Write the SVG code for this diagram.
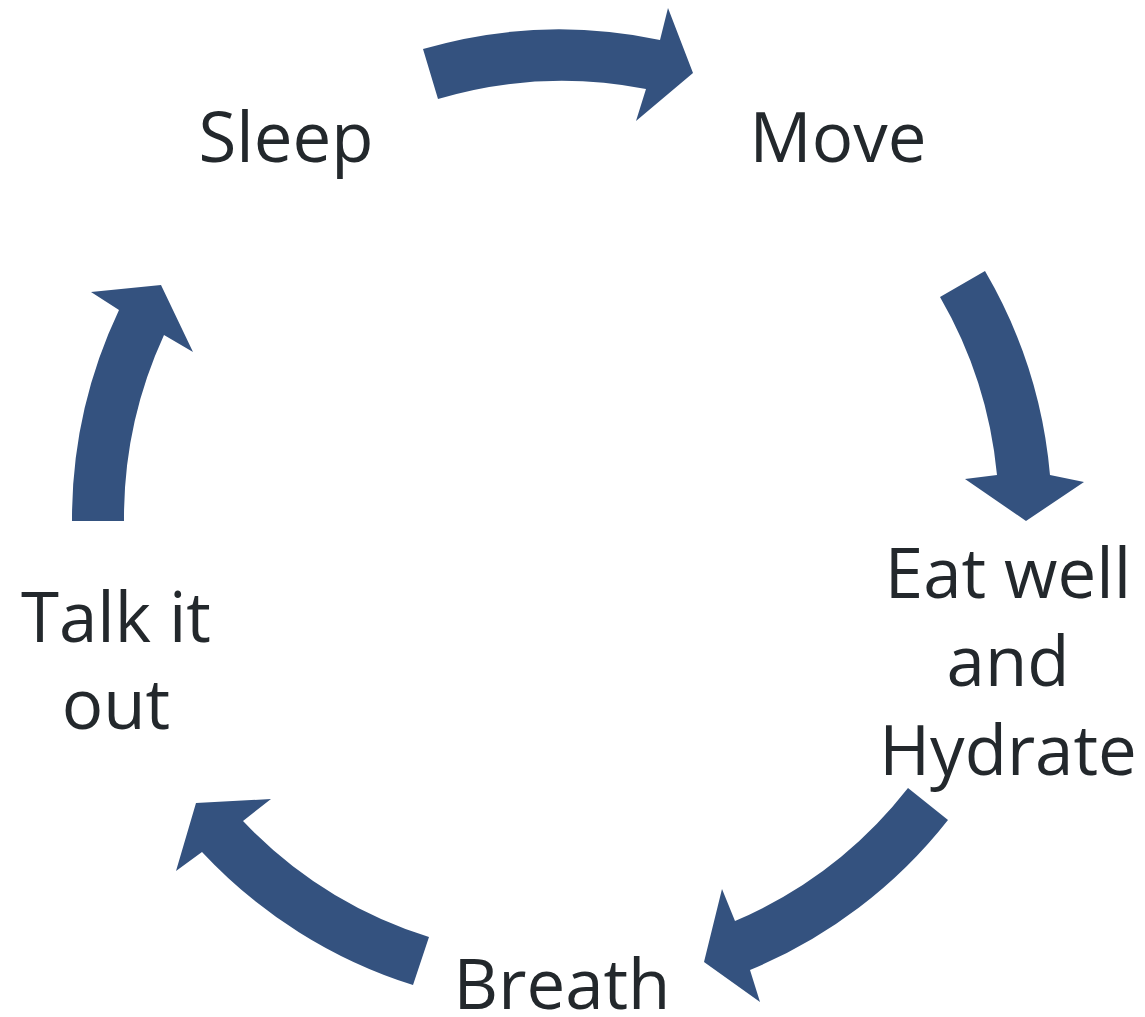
<svg xmlns="http://www.w3.org/2000/svg" width="1145" height="1017" viewBox="0 0 1145 1017">
<style>
.arrow{fill:#34527F;stroke:none}
.lbl{font-family:"Open Sans","Noto Sans","Liberation Sans",sans-serif;font-size:69px;fill:#23282C;text-anchor:middle}
</style>
<rect width="1145" height="1017" fill="#FFFFFF"/>
<g id="connectors">
<path class="arrow" d="M423,49 A489,489 0 0 1 660,40 L668,8 L693,73 L636,121 L646,89 A438,438 0 0 0 438,99 Z"/>
<path class="arrow" d="M985,271 A489,489 0 0 1 1050,475 L1084,482 L1026,521 L965,479 L997,475 A438,438 0 0 0 940,297 Z"/>
<path class="arrow" d="M948,820 A489,489 0 0 1 750,970 L760,1002 L704,962 L722,889 L735,921 A438,438 0 0 0 908,788 Z"/>
<path class="arrow" d="M413,985 A489,489 0 0 1 202,852 L176,871 L196,803 L271,799 L243,821 A438,438 0 0 0 429,937 Z"/>
<path class="arrow" d="M72,521 A489,489 0 0 1 119,310 L91,292 L161,285 L193,352 L164,335 A438,438 0 0 0 124,521 Z"/>
</g>
<g id="node-sleep"><text class="lbl" x="286" y="162">Sleep</text></g>
<g id="node-move"><text class="lbl" x="838" y="162">Move</text></g>
<g id="node-eat"><text class="lbl" x="1008" y="598">Eat well</text><text class="lbl" x="1008" y="686">and</text><text class="lbl" x="1008" y="775">Hydrate</text></g>
<g id="node-breath"><text class="lbl" x="562" y="1009">Breath</text></g>
<g id="node-talk"><text class="lbl" x="116" y="642">Talk it</text><text class="lbl" x="116" y="729">out</text></g>
</svg>
